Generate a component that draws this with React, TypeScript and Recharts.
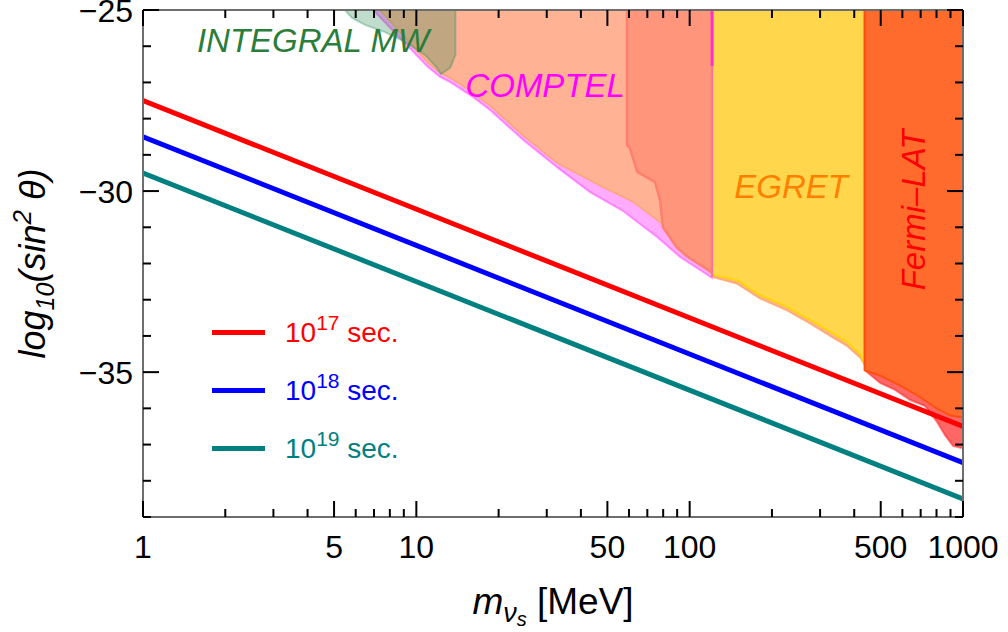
import {
  Area,
  ComposedChart,
  Legend,
  Line,
  ReferenceDot,
  ReferenceLine,
  XAxis,
  YAxis,
} from "recharts";

const FONT = '"Liberation Sans", Arial, Helvetica, sans-serif';

// axis ticks
const MASS_TICKS = [
  1, 2, 3, 4, 5, 6, 7, 8, 9, 10, 20, 30, 40, 50, 60, 70, 80, 90, 100, 200, 300, 400, 500, 600,
  700, 800, 900, 1000,
];
const MASS_LABELS = [1, 5, 10, 50, 100, 500, 1000];
const MIX_TICKS = [-39, -38, -37, -36, -35, -34, -33, -32, -31, -30, -29, -28, -27, -26, -25];
const MIX_LABELS = [-35, -30, -25];

// lifetime lines, log10(sin^2) at m = 1 and 1000 MeV
const LIFETIMES = ["17", "18", "19"];
const LINE_MASS = [1, 1000];
const LINE_AT_1 = [-27.5, -28.5, -29.5];
const LINE_AT_1000 = [-36.5, -37.5, -38.5];
const LINE_COLORS = ["#ff0000", "#0000ff", "#008080"];

// excluded regions: lower edge of each (top runs off the frame)
const REGION_TOP = -24;

const COMPTEL_MASS = [6.94, 11.0, 12.2, 13.3, 16.1, 18.6, 24.6, 32.7, 43.2, 57.0, 76.0, 92.2, 120.8, 120.8];
const COMPTEL_LIMIT = [-25, -26.57, -26.85, -26.99, -27.4, -27.76, -28.59, -29.34, -30.03, -30.55, -31.27, -31.82, -32.4, -25];

const DIFFUSE_MASS = [
  7.36, 11.0, 12.2, 13.3, 16.1, 18.6, 24.6, 32.7, 47.0, 62.1, 82.6, 109, 121.8, 149, 180.8, 227,
  275.6, 334.7, 376.6, 420, 436,
];
const DIFFUSE_LIMIT = [
  -25, -26.45, -26.73, -26.87, -27.28, -27.64, -28.47, -29.22, -29.85, -30.3, -31.0, -31.72, -32.38,
  -32.56, -32.97, -33.3, -33.66, -34.05, -34.28, -34.6, -34.8,
];

const SALMON_MASS = [59, 59, 60.4, 64.3, 74.7, 77.9, 79.9, 89.6, 97.6, 120.8, 120.8];
const SALMON_LIMIT = [-25, -28.73, -28.81, -29.47, -29.75, -30.25, -31.0, -31.55, -31.8, -32.25, -25];

const EGRET_MASS = [120.8, 120.8, 149, 180.8, 227, 275.6, 334.7, 376.6, 420, 436, 436];
const EGRET_LIMIT = [-25, -32.3, -32.46, -32.87, -33.2, -33.56, -33.93, -34.17, -34.5, -34.75, -25];

const FERMI_LOW_MASS = [437, 437, 497, 564, 640, 727, 804, 859, 920, 1000];
const FERMI_LOW_LIMIT = [-25, -34.95, -35.3, -35.49, -35.77, -35.94, -36.38, -36.74, -37.04, -37.1];

const FERMI_MASS = [437, 437, 500, 600, 700, 800, 900, 1000];
const FERMI_LIMIT = [-25, -34.95, -35.1, -35.4, -35.7, -36.0, -36.2, -36.25];

const INTEGRAL_MASS = [5.48, 5.82, 6.49, 7.68, 9.09, 10.76, 11.9, 12.3, 13.3, 13.9, 13.9];
const INTEGRAL_LIMIT = [-25, -25.22, -25.41, -25.61, -25.88, -26.24, -26.6, -26.77, -26.6, -26.24, -25];

function band(mass: number[], limit: number[]) {
  return mass.map((m, i) => ({ x: m, r: [limit[i], REGION_TOP] }));
}

const REGIONS = [
  { key: "comptel", data: band(COMPTEL_MASS, COMPTEL_LIMIT), fill: "#ff00ff", fo: 0.33, stroke: "#ff00ff", so: 0.35, sw: 2 },
  { key: "diffuse", data: band(DIFFUSE_MASS, DIFFUSE_LIMIT), fill: "#ffb294", fo: 1, stroke: "#ffa060", so: 0.8, sw: 1.5 },
  { key: "salmon", data: band(SALMON_MASS, SALMON_LIMIT), fill: "#ff957b", fo: 1, stroke: "#ff7f6e", so: 1, sw: 2.5 },
  { key: "egret", data: band(EGRET_MASS, EGRET_LIMIT), fill: "#ffd64c", fo: 1, stroke: "#ffd700", so: 1, sw: 2 },
  { key: "fermiLow", data: band(FERMI_LOW_MASS, FERMI_LOW_LIMIT), fill: "#ff0000", fo: 0.6, stroke: "#ff2020", so: 0.5, sw: 2 },
  { key: "fermi", data: band(FERMI_MASS, FERMI_LIMIT), fill: "#ff6b2c", fo: 1, stroke: "#ff5010", so: 1, sw: 2 },
  { key: "integral", data: band(INTEGRAL_MASS, INTEGRAL_LIMIT), fill: "#2e8b57", fo: 0.3, stroke: "#2e8b57", so: 0.35, sw: 2 },
];

const REGION_LABELS = [
  { text: "INTEGRAL MW", x: 4.19, y: -26.16, color: "#2a7d3a", rotate: false },
  { text: "COMPTEL", x: 29.6, y: -27.4, color: "#ff00ff", rotate: false },
  { text: "EGRET", x: 235, y: -30.19, color: "#ff8000", rotate: false },
  { text: "Fermi–LAT", x: 726, y: -30.52, color: "#ff0000", rotate: true },
];

const AXIS_LINE = { stroke: "#6e6e6e", strokeWidth: 2 };
const MAJOR = 16;
const MINOR = 8;

const fmt = (v: number) => String(v).replace("-", "\u2212");

function BottomTick({ x, y, payload }: any) {
  const major = MASS_LABELS.includes(payload.value);
  return (
    <g>
      <line x1={x} x2={x} y1={y} y2={y - (major ? MAJOR : MINOR)} stroke="#000" strokeWidth={2} />
      {major && (
        <text x={x} y={y + 41} textAnchor="middle" fontSize={32} fontFamily={FONT} fill="#000">
          {payload.value}
        </text>
      )}
    </g>
  );
}

function TopTick({ x, y, payload }: any) {
  const major = MASS_LABELS.includes(payload.value);
  return <line x1={x} x2={x} y1={y} y2={y + (major ? MAJOR : MINOR)} stroke="#000" strokeWidth={2} />;
}

function LeftTick({ x, y, payload }: any) {
  const major = MIX_LABELS.includes(payload.value);
  return (
    <g>
      <line x1={x} x2={x + (major ? MAJOR : MINOR)} y1={y} y2={y} stroke="#000" strokeWidth={2} />
      {major && (
        <text x={x - 10} y={y + 12} textAnchor="end" fontSize={32} fontFamily={FONT} fill="#000">
          {fmt(payload.value)}
        </text>
      )}
    </g>
  );
}

function RightTick({ x, y, payload }: any) {
  const major = MIX_LABELS.includes(payload.value);
  return <line x1={x} x2={x - (major ? MAJOR : MINOR)} y1={y} y2={y} stroke="#000" strokeWidth={2} />;
}

function YTitle(props: any) {
  const vb = props.viewBox;
  const cx = vb.x + 45;
  const cy = vb.y + vb.height / 2;
  return (
    <text
      x={cx}
      y={cy}
      transform={`rotate(-90 ${cx} ${cy})`}
      textAnchor="middle"
      fontSize={36}
      fontStyle="italic"
      fontFamily={FONT}
      fill="#000"
    >
      log
      <tspan fontSize={25} dy={9}>10</tspan>
      <tspan dy={-9}>(sin</tspan>
      <tspan fontSize={26} dy={-14}>2</tspan>
      <tspan dy={14}> θ)</tspan>
    </text>
  );
}

function XTitle(props: any) {
  const vb = props.viewBox;
  const cx = vb.x + vb.width / 2;
  const cy = vb.y + 97;
  return (
    <text x={cx} y={cy} textAnchor="middle" fontSize={37} fontFamily={FONT} fill="#000">
      <tspan fontStyle="italic">m</tspan>
      <tspan fontStyle="italic" fontSize={27} dy={8}>ν</tspan>
      <tspan fontStyle="italic" fontSize={20} dy={4}>s</tspan>
      <tspan dy={-12}>  [MeV]</tspan>
    </text>
  );
}

function LifetimeLegend() {
  return (
    <div style={{ fontFamily: FONT, fontSize: 28 }}>
      {LIFETIMES.map((t, i) => (
        <div key={t} style={{ display: "flex", alignItems: "center", height: 58 }}>
          <div style={{ width: 53, height: 5, background: LINE_COLORS[i], marginRight: 20 }} />
          <span style={{ color: LINE_COLORS[i], lineHeight: "28px", position: "relative", top: 2 }}>
            10
            <span style={{ fontSize: 21, position: "relative", top: -12 }}>{t}</span> sec.
          </span>
        </div>
      ))}
    </div>
  );
}

export default function App() {
  return (
    <div style={{ position: "absolute", left: 0, top: 0, width: 1008, height: 632, background: "#fff", fontFamily: FONT }}>
      <ComposedChart width={1008} height={632} margin={{ top: 9, right: 44, bottom: 0, left: 0 }}>
        {REGIONS.map((r) => (
          <Area
            key={r.key}
            data={r.data}
            dataKey="r"
            type="linear"
            fill={r.fill}
            fillOpacity={r.fo}
            stroke={r.stroke}
            strokeOpacity={r.so}
            strokeWidth={r.sw}
            dot={false}
            activeDot={false}
            legendType="none"
            isAnimationActive={false}
          />
        ))}
        <ReferenceLine
          segment={[{ x: 120.8, y: -25 }, { x: 120.8, y: -26.55 }]}
          stroke="#ff30d0"
          strokeWidth={3}
        />
        <ReferenceLine
          segment={[{ x: 120.8, y: -26.55 }, { x: 120.8, y: -32.37 }]}
          stroke="#ff6f9f"
          strokeWidth={2}
        />
        {LIFETIMES.map((t, i) => (
          <Line
            key={t}
            data={LINE_MASS.map((m, j) => ({ x: m, y: j === 0 ? LINE_AT_1[i] : LINE_AT_1000[i] }))}
            dataKey="y"
            name={`1e${t} sec.`}
            stroke={LINE_COLORS[i]}
            strokeWidth={5}
            dot={false}
            activeDot={false}
            isAnimationActive={false}
          />
        ))}
        {REGION_LABELS.map((l) => (
          <ReferenceDot
            key={l.text}
            x={l.x}
            y={l.y}
            r={0}
            shape={(p: any) => (
              <text
                x={p.cx}
                y={p.cy}
                textAnchor="middle"
                transform={l.rotate ? `rotate(-90 ${p.cx} ${p.cy})` : undefined}
                fontSize={33}
                fontStyle="italic"
                fontFamily={FONT}
                fill={l.color}
              >
                {l.text}
              </text>
            )}
          />
        ))}
        <Legend
          layout="vertical"
          align="center"
          verticalAlign="middle"
          wrapperStyle={{ left: 212, top: 303, width: 240 }}
          content={() => <LifetimeLegend />}
        />
        <XAxis
          dataKey="x"
          type="number"
          scale="log"
          domain={[1, 1000]}
          allowDataOverflow
          ticks={MASS_TICKS}
          interval={0}
          height={115}
          tickSize={0}
          tickMargin={0}
          tickLine={false}
          axisLine={AXIS_LINE}
          tick={BottomTick}
          label={XTitle}
        />
        <XAxis
          xAxisId="top"
          orientation="top"
          dataKey="x"
          type="number"
          scale="log"
          domain={[1, 1000]}
          allowDataOverflow
          ticks={MASS_TICKS}
          interval={0}
          height={1}
          tickSize={0}
          tickMargin={0}
          tickLine={false}
          axisLine={AXIS_LINE}
          tick={TopTick}
        />
        <YAxis
          type="number"
          domain={[-39, -25]}
          allowDataOverflow
          ticks={MIX_TICKS}
          interval={0}
          width={143}
          tickSize={0}
          tickMargin={0}
          tickLine={false}
          axisLine={AXIS_LINE}
          tick={LeftTick}
          label={YTitle}
        />
        <YAxis
          yAxisId="right"
          orientation="right"
          type="number"
          domain={[-39, -25]}
          allowDataOverflow
          ticks={MIX_TICKS}
          interval={0}
          width={1}
          tickSize={0}
          tickMargin={0}
          tickLine={false}
          axisLine={AXIS_LINE}
          tick={RightTick}
        />
      </ComposedChart>
    </div>
  );
}
